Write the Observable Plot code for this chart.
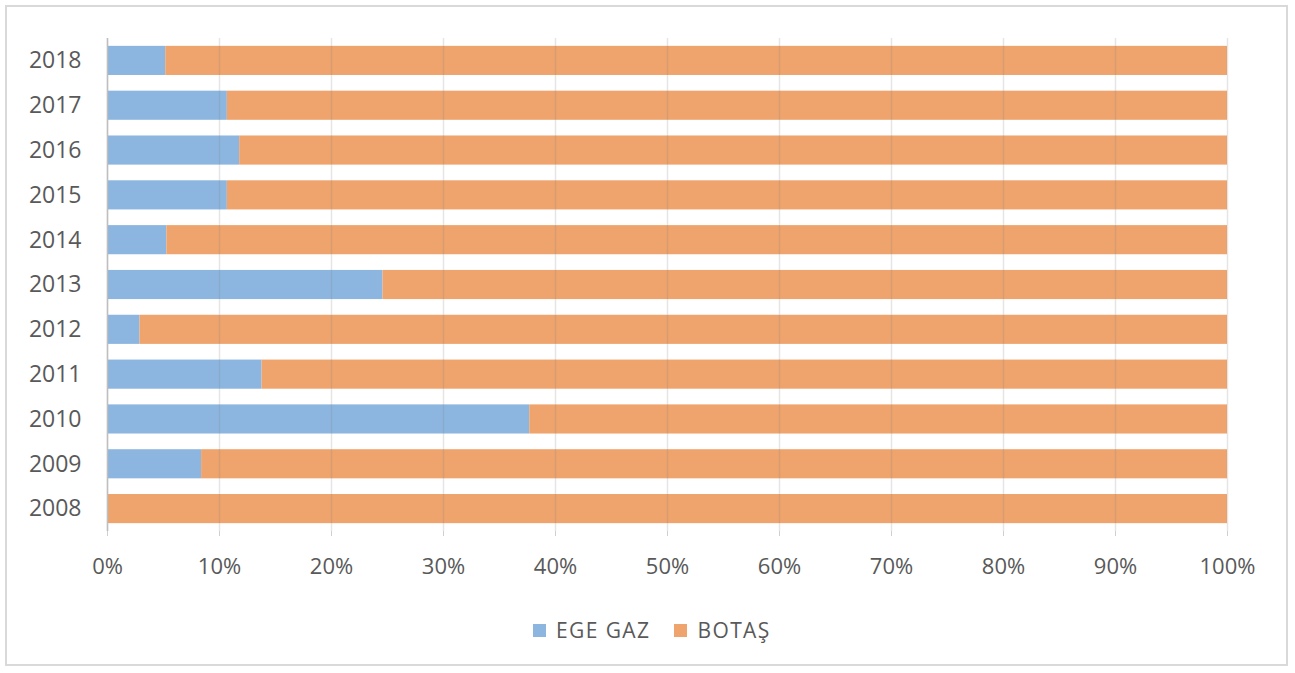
<!DOCTYPE html>
<html>
<head>
<meta charset="utf-8">
<script src="https://cdn.jsdelivr.net/npm/d3@7"></script>
<script src="https://cdn.jsdelivr.net/npm/@observablehq/plot@0.6"></script>
<style>
  html, body { margin: 0; padding: 0; background: #fff; }
  body { width: 1295px; height: 673px; position: relative; overflow: hidden; font-family: "Open Sans", sans-serif; }
  #frame { position: absolute; left: 5px; top: 5px; width: 1283px; height: 661px; border: 2px solid #d9d9d9; box-sizing: border-box; }
  #chart { position: absolute; left: 0; top: 0; }
  #legend { position: absolute; left: 533px; top: 614px; display: flex; align-items: center; font-size: 21px; letter-spacing: 1.4px; color: #595959; height: 32px; }
  #legend .item { display: flex; align-items: center; }
  #legend .sw { width: 13px; height: 13px; display: inline-block; margin-right: 10px; }
  #legend .item + .item { margin-left: 24px; }
</style>
</head>
<body>
<div id="frame"></div>
<div id="chart"></div>
<div id="legend"></div>
<script>
const years = ["2008","2009","2010","2011","2012","2013","2014","2015","2016","2017","2018"];
const seriesNames = ["EGE GAZ", "BOTAŞ"];
const egeGaz = [0, 8.4, 37.7, 13.8, 2.9, 24.6, 5.3, 10.7, 11.8, 10.7, 5.2];
const botas  = [100, 91.6, 62.3, 86.2, 97.1, 75.4, 94.7, 89.3, 88.2, 89.3, 94.8];
const colors = ["#8cb6e0", "#f0a46d"];
const xTicks = [0, 10, 20, 30, 40, 50, 60, 70, 80, 90, 100];

const data = [];
years.forEach((y, i) => {
  data.push({year: y, series: seriesNames[0], value: egeGaz[i]});
  data.push({year: y, series: seriesNames[1], value: botas[i]});
});

const chart = Plot.plot({
  width: 1295,
  height: 600,
  marginLeft: 107,
  marginRight: 68,
  marginTop: 38,
  marginBottom: 69,
  style: {fontFamily: "Open Sans, sans-serif", color: "#595959", background: "transparent"},
  x: {domain: [0, 100], ticks: xTicks, tickFormat: d => d + "%", label: null},
  y: {domain: years.slice().reverse(), paddingInner: 0.35, paddingOuter: 0.175, round: false, label: null},
  color: {domain: seriesNames, range: colors},
  marks: [
    Plot.barX(data, Plot.stackX({x: "value", y: "year", fill: "series", order: seriesNames})),
    Plot.gridX(xTicks, {stroke: "#7f7f7f", strokeOpacity: 0.2, strokeWidth: 1.5}),
    Plot.ruleX([0], {stroke: "#bfbfbf", strokeWidth: 1.5}),
    Plot.axisX({ticks: xTicks, tickFormat: d => d + "%", tickSize: 5, tickPadding: 22, stroke: "#d0d0d0", fill: "#595959", fontSize: 22, label: null}),
    Plot.axisY({tickSize: 0, tickPadding: 26, fill: "#595959", fontSize: 23, label: null})
  ]
});
document.getElementById("chart").appendChild(chart);

const legend = document.getElementById("legend");
seriesNames.forEach((s, i) => {
  const item = document.createElement("div");
  item.className = "item";
  const sw = document.createElement("span");
  sw.className = "sw";
  sw.style.background = colors[i];
  const t = document.createElement("span");
  t.textContent = s;
  item.appendChild(sw);
  item.appendChild(t);
  legend.appendChild(item);
});
</script>
</body>
</html>
